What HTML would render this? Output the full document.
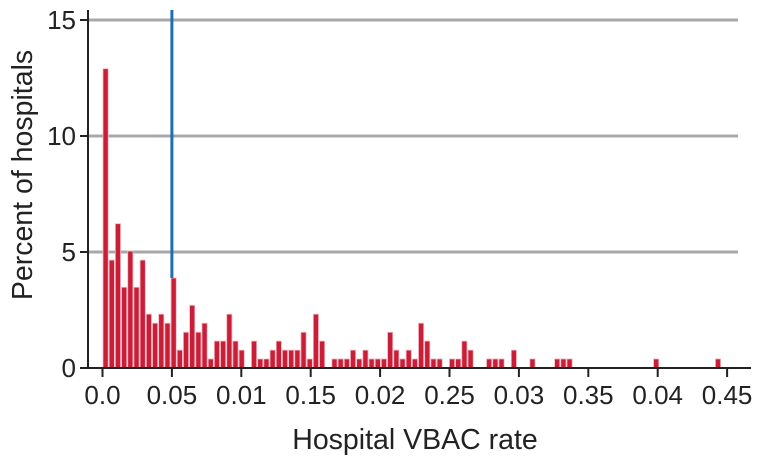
<!DOCTYPE html>
<html><head><meta charset="utf-8"><style>
body{margin:0;background:#fff;}
svg{display:block;font-family:"Liberation Sans",Arial,sans-serif;}
</style></head><body>
<svg id="chart" width="762" height="462">
<g id="grid"></g><g id="bars"></g><g id="axes"></g>
</svg>
<script>
const binIndex = [0,1,2,3,4,5,6,7,8,9,10,11,12,13,14,15,16,17,18,19,20,21,22,24,25,26,27,28,29,30,31,32,33,34,35,37,38,39,40,41,42,43,44,45,46,47,48,49,50,51,52,53,54,56,57,58,59,62,63,64,66,69,73,74,75,89,99];
const percentValues = [12.9,4.65,6.22,3.48,5.04,3.48,4.65,2.32,1.93,2.32,1.93,3.88,0.77,1.54,2.7,1.54,1.93,0.39,1.16,1.16,2.32,1.16,0.77,1.16,0.39,0.39,0.77,1.16,0.77,0.77,0.77,1.54,0.39,2.32,1.16,0.39,0.39,0.39,0.77,0.39,0.77,0.39,0.39,0.39,1.54,0.77,0.39,0.77,0.39,1.93,1.16,0.39,0.39,0.39,0.39,1.16,0.77,0.39,0.39,0.39,0.77,0.39,0.39,0.39,0.39,0.39,0.39];
const xTickValues = [0,0.05,0.10,0.15,0.20,0.25,0.30,0.35,0.40,0.45];
const xTickLabels = ["0.0","0.05","0.01","0.15","0.02","0.25","0.03","0.35","0.04","0.45"];
const yTickValues = [0,5,10,15];
const binWidth = 0.004457;
const cutoff = 0.05;

const NS="http://www.w3.org/2000/svg";
const x0=102.5, xPerUnit=69.4/0.05, y0=368, yPerUnit=23.2;
const xs=v=>x0+v*xPerUnit, ys=v=>y0-v*yPerUnit;
function mk(t,a,p){const e=document.createElementNS(NS,t);for(const k in a)e.setAttribute(k,a[k]);p.appendChild(e);return e;}
const grid=document.getElementById('grid'),bars=document.getElementById('bars'),axes=document.getElementById('axes');
yTickValues.slice(1).forEach(v=>{
  const l=mk('line',{x1:88,x2:738,y1:ys(v),y2:ys(v),stroke:'#a8a8a8','stroke-width':3},grid);
  
  
});
binIndex.forEach((b,i)=>{
  const x=xs(b*binWidth), w=binWidth*xPerUnit;
  const r=mk('rect',{x:x+0.5,y:ys(percentValues[i]),width:w-1,height:percentValues[i]*yPerUnit,fill:'#c81e38',stroke:'#f4b6c0','stroke-width':0.8},bars);
  
  
});
const cl=mk('line',{x1:xs(cutoff),x2:xs(cutoff),y1:10,y2:ys(percentValues[11]),stroke:'#1e6fb0','stroke-width':3},axes);


const ya=mk('line',{x1:88,x2:88,y1:10,y2:369,stroke:'#222','stroke-width':2},axes);


const xa=mk('line',{x1:87,x2:751,y1:368,y2:368,stroke:'#222','stroke-width':2},axes);


yTickValues.forEach(v=>{
  const t=mk('line',{x1:80,x2:88,y1:ys(v),y2:ys(v),stroke:'#222','stroke-width':2},axes);
  
  
  const tx=mk('text',{x:76,y:ys(v)+9,'text-anchor':'end','font-size':26,fill:'#222'},axes);
  tx.textContent=v;
  
  
});
xTickValues.forEach((v,i)=>{
  const t=mk('line',{x1:xs(v),x2:xs(v),y1:368,y2:377,stroke:'#222','stroke-width':2},axes);
  
  
  const tx=mk('text',{x:xs(v),y:404,'text-anchor':'middle','font-size':26,fill:'#222'},axes);
  tx.textContent=xTickLabels[i];
  
  
});
const xt=mk('text',{x:415,y:449,'text-anchor':'middle','font-size':28.5,fill:'#222'},axes);
xt.textContent='Hospital VBAC rate';


const yt=mk('text',{x:0,y:0,'text-anchor':'middle','font-size':28.5,fill:'#222',transform:'translate(32,175) rotate(-90)'},axes);
yt.textContent='Percent of hospitals';


</script>
</body></html>
